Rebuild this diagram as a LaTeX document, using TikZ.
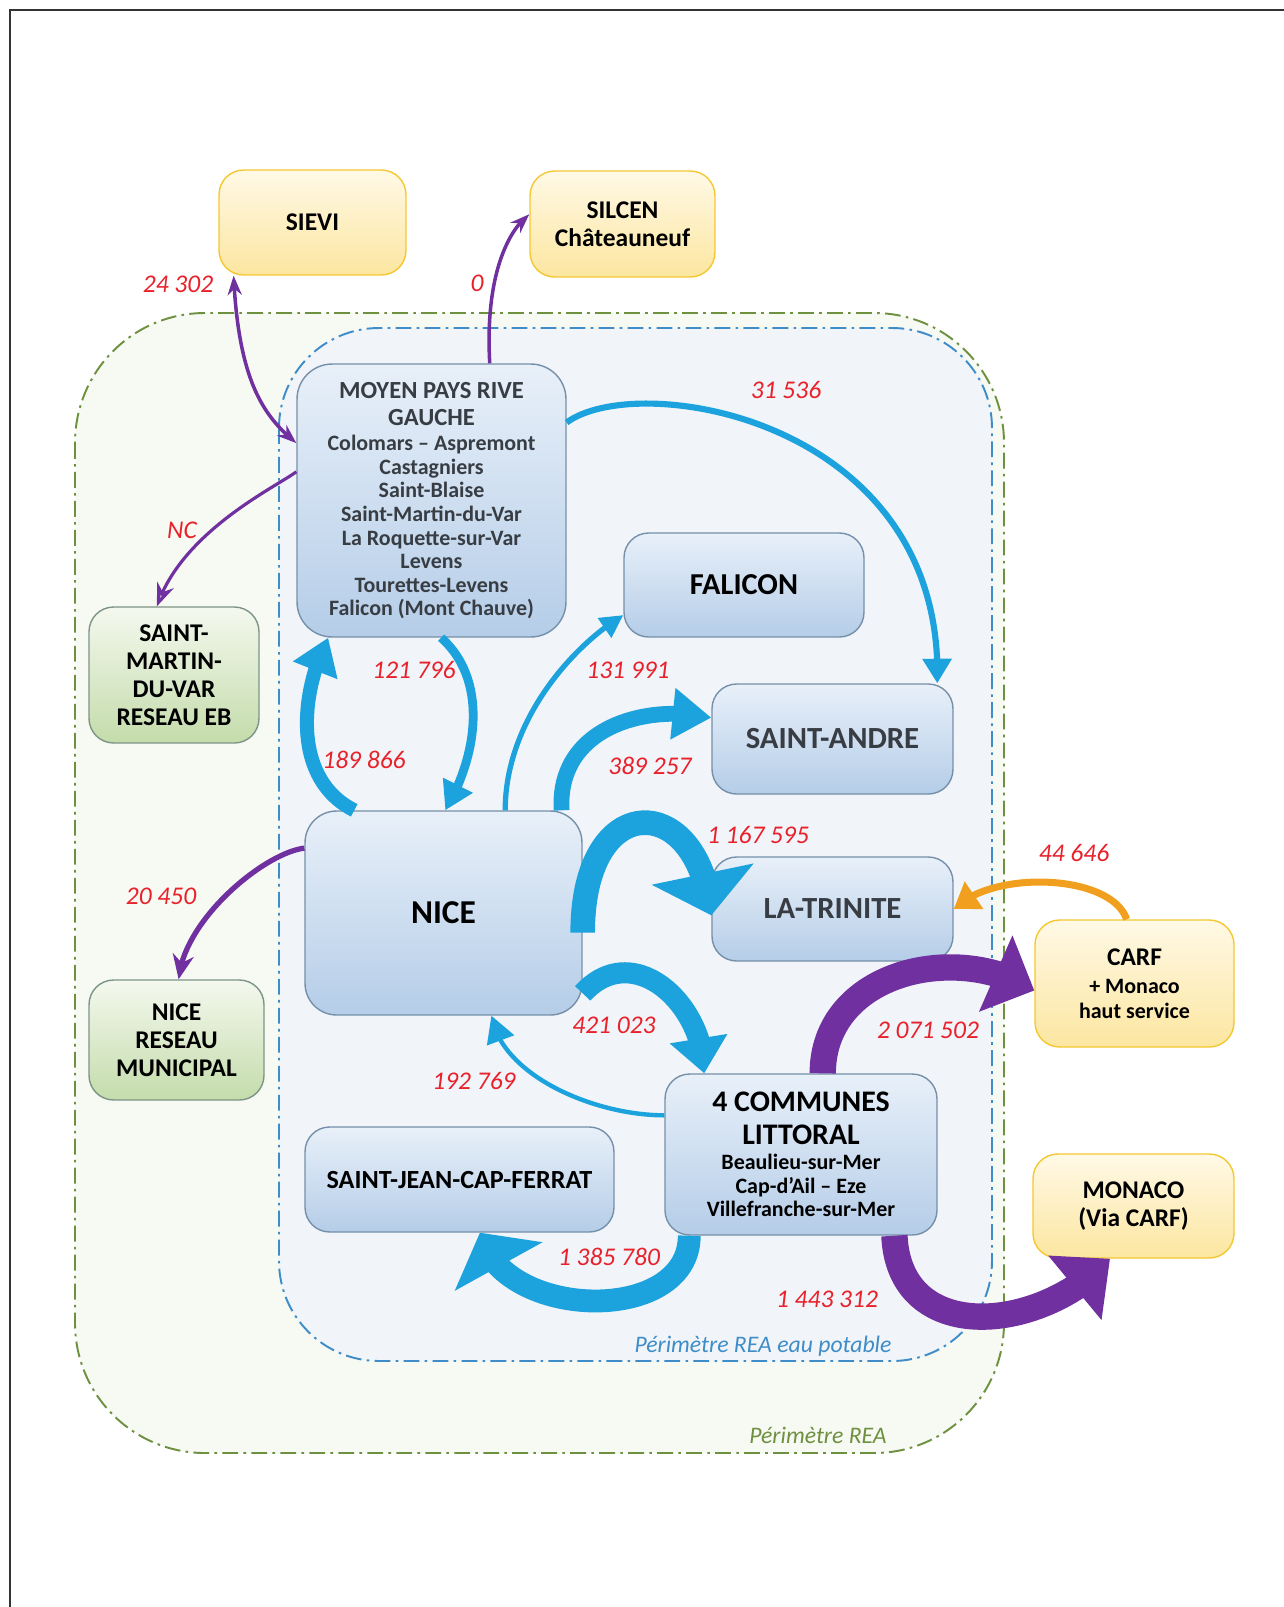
\documentclass[tikz,border=0pt]{standalone}
\usepackage{fontspec}
\setmainfont{Carlito}
\usetikzlibrary{arrows.meta,bending}

\definecolor{boxtop}{HTML}{E8F0F9}
\definecolor{boxbot}{HTML}{B5CDE8}
\definecolor{boxedge}{HTML}{7690AA}
\definecolor{greentop}{HTML}{F4F8EE}
\definecolor{greenbot}{HTML}{C4DCAB}
\definecolor{greenedge}{HTML}{7D9487}
\definecolor{yellowtop}{HTML}{FFF9E6}
\definecolor{yellowbot}{HTML}{FCE6A0}
\definecolor{yellowedge}{HTML}{F3C830}
\definecolor{flowblue}{HTML}{1CA2DD}
\definecolor{flowpurple}{HTML}{7030A0}
\definecolor{floworange}{HTML}{F0A01E}
\definecolor{numred}{HTML}{E8212B}
\definecolor{reagreen}{HTML}{6E9140}
\definecolor{reablue}{HTML}{3E8DC8}
\definecolor{areagreen}{HTML}{F7F9F3}
\definecolor{areablue}{HTML}{F1F5F9}
\definecolor{textgray}{HTML}{383D44}
\definecolor{framegray}{HTML}{333333}

\begin{document}
\begin{tikzpicture}
[x=0.02cm,y=-0.02cm,
  bluebox/.style={shape=rectangle,draw=boxedge,line width=0.8pt,rounded corners=14pt,
    top color=boxtop,bottom color=boxbot,align=center,inner sep=0pt,text=black},
  greenbox/.style={bluebox,draw=greenedge,top color=greentop,bottom color=greenbot,
    font=\bfseries\fontsize{14.5}{16}\selectfont},
  yellowbox/.style={bluebox,draw=yellowedge,top color=yellowtop,bottom color=yellowbot},
  numlabel/.style={text=numred,font=\itshape\fontsize{14.5}{17}\selectfont},
  zonelabel/.style={font=\itshape\fontsize{13.5}{16}\selectfont},
  zone/.style={line width=1.1pt,dash pattern=on 9pt off 3pt on 1.5pt off 3pt}]
\useasboundingbox (0,0) rectangle (1284,1607);
\draw[framegray,line width=1.2pt] (10,1607) -- (10,10) -- (1284,10);

%% perimeters
\draw[zone,draw=reagreen,fill=areagreen,rounded corners=2.6cm] (75,313) rectangle (1004,1453);
\draw[zone,draw=reablue,fill=areablue,rounded corners=2cm] (279,328) rectangle (992,1361);
\node (reaname) [zonelabel,text=reagreen] at (818,1435) {Périmètre REA};
\node (eauname) [zonelabel,text=reablue] at (763,1346) {Périmètre REA eau potable};

%% boxes
\node (sievi) [yellowbox,minimum width=3.74cm,minimum height=2.1cm,
  font=\bfseries\fontsize{14.5}{16}\selectfont] at (312.5,222.5) {SIEVI};
\node (silcen) [yellowbox,minimum width=3.7cm,minimum height=2.12cm,
  font=\bfseries\fontsize{14.5}{15.7}\selectfont] at (622.5,224) {SILCEN\\Châteauneuf};
\node (mprg) [bluebox,minimum width=5.38cm,minimum height=5.46cm,rounded corners=20pt,
  text=textgray,font=\bfseries\fontsize{12.5}{13.4}\selectfont] at (431.5,500.5)
  {{\fontsize{14}{15.7}\selectfont MOYEN PAYS RIVE}\\[2.3pt]
   {\fontsize{14}{15.7}\selectfont GAUCHE}\\[0.9pt]
   Colomars -- Aspremont\\ Castagniers\\ Saint-Blaise\\ Saint-Martin-du-Var\\
   La Roquette-sur-Var\\ Levens\\ Tourettes-Levens\\ Falicon (Mont Chauve)};
\node (falicon) [bluebox,minimum width=4.8cm,minimum height=2.08cm,
  font=\bfseries\fontsize{17.3}{19}\selectfont] at (744,585) {FALICON};
\node (standre) [bluebox,minimum width=4.82cm,minimum height=2.2cm,text=textgray,
  font=\bfseries\fontsize{17.5}{19}\selectfont] at (832.5,739) {SAINT-ANDRE};
\node (nice) [bluebox,minimum width=5.54cm,minimum height=4.08cm,rounded corners=18pt,
  font=\bfseries\fontsize{19}{22}\selectfont] at (443.5,913) {NICE};
\node (trinite) [bluebox,minimum width=4.82cm,minimum height=2.08cm,text=textgray,
  font=\bfseries\fontsize{17.5}{19}\selectfont] at (832.5,909) {LA-TRINITE};
\node (littoral) [bluebox,minimum width=5.44cm,minimum height=3.22cm,
  font=\bfseries\fontsize{12.5}{13.4}\selectfont] at (801,1154.5)
  {{\fontsize{17}{18.6}\selectfont 4 COMMUNES}\\[5.2pt]
   {\fontsize{17}{18.6}\selectfont LITTORAL}\\[1.1pt]
   Beaulieu-sur-Mer\\ Cap-d’Ail -- Eze\\ Villefranche-sur-Mer};
\node (sjcf) [bluebox,minimum width=6.18cm,minimum height=2.1cm,
  font=\bfseries\fontsize{14.9}{16}\selectfont] at (459.5,1179.5) {SAINT-JEAN-CAP-FERRAT};
\node (smvar) [greenbox,minimum width=3.4cm,minimum height=2.72cm] at (174,675)
  {SAINT-\\MARTIN-\\DU-VAR\\RESEAU EB};
\node (nicemun) [greenbox,minimum width=3.5cm,minimum height=2.4cm] at (176.5,1040)
  {NICE\\RESEAU\\MUNICIPAL};
\node (carf) [yellowbox,minimum width=3.98cm,minimum height=2.54cm,
  font=\bfseries\fontsize{12.5}{14}\selectfont] at (1134.5,983.5)
  {{\fontsize{14.5}{16.3}\selectfont CARF}\\[2.3pt] + Monaco\\ haut service};
\node (monaco) [yellowbox,minimum width=4.02cm,minimum height=2.08cm,
  font=\bfseries\fontsize{14.5}{15.7}\selectfont] at (1133.5,1206) {MONACO\\(Via CARF)};

%% volumes
\foreach \x/\y/\val [count=\i] in {178/284/24 302, 477/283/0, 786/390/31 536, 182/530/NC,
    414/670/121 796, 628/670/131 991, 364/760/189 866, 650/766/389 257,
    758/835/1 167 595, 1074/853/44 646, 161/896/20 450, 614/1025/421 023,
    928/1030/2 071 502, 474/1081/192 769, 609/1257/1 385 780, 827/1299/1 443 312} {
  \node (num\i) [numlabel] at (\x,\y) {\val};
}

%% thin links
\draw[flowpurple,line width=2pt,{Stealth[length=11pt,width=8pt]}-{Stealth[length=11pt,width=8pt]}]
  (mprg.157) .. controls +(-30,-25) and +(5,110) .. (sievi.214);
\draw[flowpurple,line width=2pt,-{Stealth[length=11pt,width=8pt]}]
  (mprg.67) .. controls +(-5,-90) and +(-20,15) .. (silcen.174);
\draw[flowpurple,line width=1.8pt,-{Stealth[length=13pt,width=10pt,fill=flowpurple!35]}]
  (mprg.168) .. controls +(-20,15) and +(25,-75) .. (smvar.104);
\draw[flowpurple,line width=3pt,-{Stealth[length=14pt,width=12pt]}]
  (nice.155) .. controls +(-40,5) and +(5,-60) .. (nicemun.88);
\draw[floworange,line width=4pt,-{Triangle[length=14pt,width=18pt]}]
  (carf.97) .. controls +(-15,-45) and +(40,-40) .. (trinite.0);
\draw[flowblue,line width=3.5pt,-{Triangle[length=14pt,width=16pt]}]
  (mprg.30) .. controls +(72,-53) and +(8,-264) .. (standre.28);
\draw[flowblue,line width=3pt,-{Triangle[length=13pt,width=13pt]}]
  (nice.59) .. controls +(0,-90) and +(-50,30) .. (falicon.194);
\draw[flowblue,line width=2.5pt,-{Triangle[length=15pt,width=16pt]}]
  (littoral.164) .. controls +(-70,0) and +(10,60) .. (nice.295);

%% fat flows
\draw[flowblue,line width=8pt,-{Triangle[length=20pt,width=26pt]}]
  (nice.131) .. controls +(-60,-30) and +(-30,60) .. (mprg.233);
\draw[flowblue,line width=5pt,-{Triangle[length=16pt,width=18pt]}]
  (mprg.274) .. controls +(45,40) and +(35,-60) .. (nice.89);
\draw[flowblue,line width=9pt,-{Triangle[length=22pt,width=28pt]}]
  (nice.41) .. controls +(-5,-80) and +(-70,-15) .. (standre.170);
\draw[flowblue,line width=14pt,-{Triangle[length=24pt,width=58pt]}]
  (nice.352) .. controls +(0,-145) and +(-12,-125) .. (trinite.183);
\draw[flowblue,line width=12pt,-{Triangle[length=20pt,width=32pt]}]
  (nice.-30) .. controls +(50,-55) and +(0,-70) .. (littoral.140);
\draw[flowblue,line width=13pt,-{Triangle[length=22pt,width=56pt]}]
  (littoral.216) .. controls +(0,90) and +(20,88) .. (sjcf.291);
\draw[flowpurple,line width=15pt,-{Triangle[length=24pt,width=46pt]}]
  (littoral.75) .. controls +(0,-100) and +(-80,-50) .. (carf.184);
\draw[flowpurple,line width=15pt,-{Triangle[length=26pt,width=46pt]}]
  (littoral.319) .. controls +(5,110) and +(-70,75) .. (monaco.246);
\end{tikzpicture}
\end{document}
